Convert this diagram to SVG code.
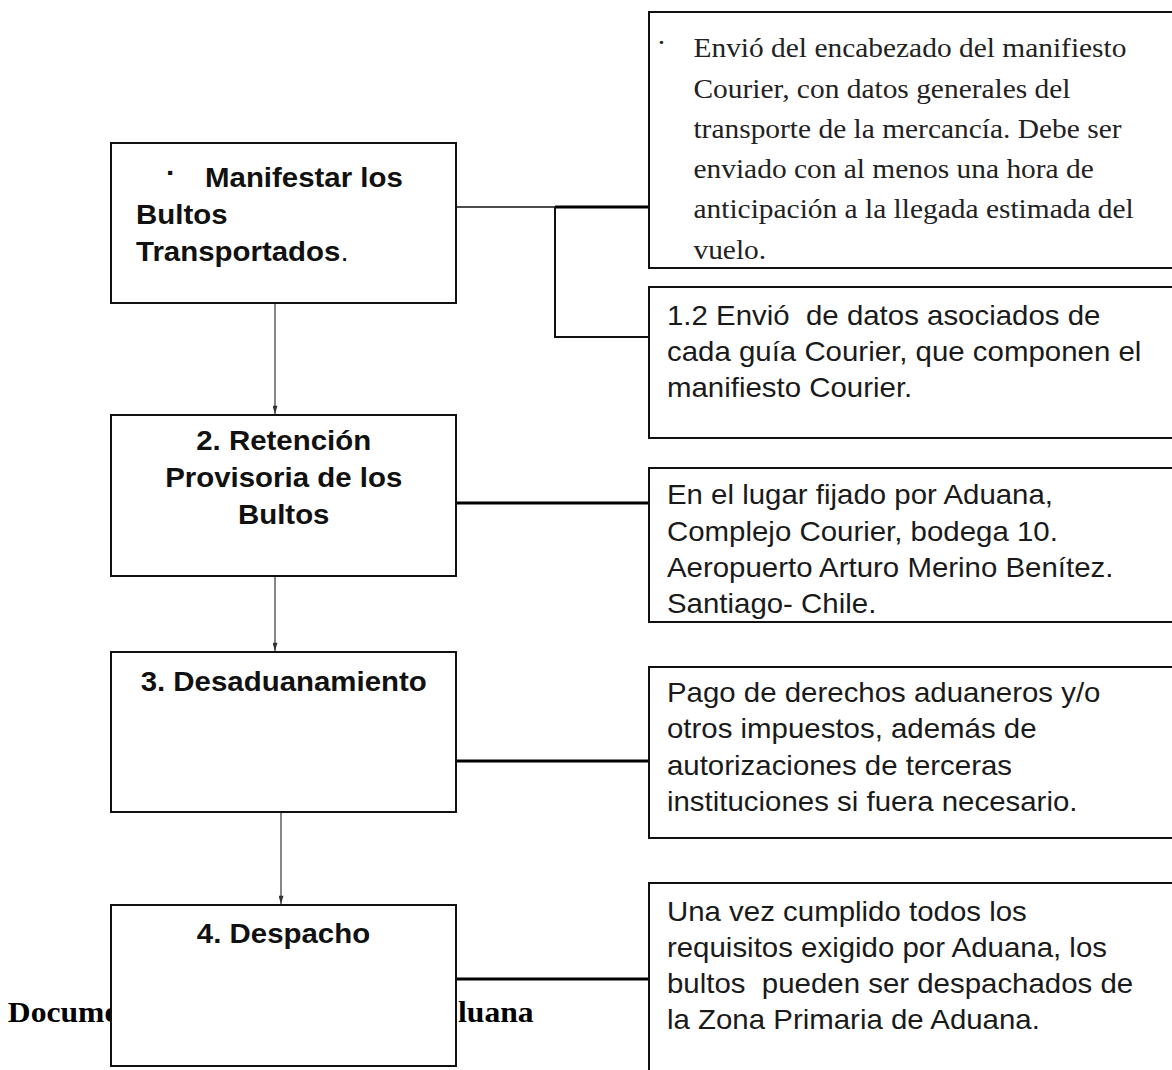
<svg xmlns="http://www.w3.org/2000/svg" width="1172" height="1070" viewBox="0 0 1172 1070">
<style>
.box{fill:#fff;stroke:#111;stroke-width:2}
.sb{font-family:"Liberation Sans",Arial,sans-serif;font-size:27px;font-weight:bold;fill:#111}
.sr{font-family:"Liberation Sans",Arial,sans-serif;font-size:27px;fill:#1a1a1a}
.tr{font-family:"Liberation Serif","Times New Roman",serif;font-size:27px;fill:#222}
.tb{font-family:"Liberation Serif","Times New Roman",serif;font-size:29px;font-weight:bold;fill:#000}
.thin{stroke:#111;stroke-width:1.6;fill:none}
.mid{stroke:#111;stroke-width:2;fill:none}
.thick{stroke:#000;stroke-width:3;fill:none}
.arr{stroke:#444;stroke-width:1.3;fill:none}
</style>
<defs>
<marker id="ah" viewBox="0 0 10 6" refX="10" refY="3" markerWidth="10" markerHeight="5" markerUnits="userSpaceOnUse" orient="auto">
<path d="M0,0 L10,3 L0,6 z" fill="#333"/>
</marker>
</defs>
<rect width="1172" height="1070" fill="#fff"/>

<g id="footer-text">
<text class="tb" transform="scale(1.09 1)" x="7.2" y="1022">Docume</text>
<text class="tb" transform="scale(1.09 1)" x="420.2" y="1022">luana</text>
</g>

<g id="connectors">
<line class="arr" x1="275" y1="304" x2="275" y2="414" marker-end="url(#ah)"/>
<line class="arr" x1="275" y1="577" x2="275" y2="651" marker-end="url(#ah)"/>
<line class="arr" x1="281" y1="813" x2="281" y2="904" marker-end="url(#ah)"/>
<line class="thin" x1="456" y1="207" x2="555" y2="207"/>
<line class="thick" x1="555" y1="207" x2="649" y2="207"/>
<polyline class="mid" points="555,207 555,337 649,337"/>
<line class="thick" x1="456" y1="503" x2="649" y2="503"/>
<line class="thick" x1="456" y1="761" x2="649" y2="761"/>
<line class="thick" x1="456" y1="979" x2="649" y2="979"/>
</g>

<g id="node-manifestar">
<rect class="box" x="111" y="143" width="345" height="160"/>
<text class="sb" transform="scale(1.09 1)" x="152.3" y="182">·</text>
<text class="sb" transform="scale(1.09 1)" x="188.1" y="187">Manifestar los</text>
<text class="sb" transform="scale(1.09 1)" x="124.8" y="224">Bultos</text>
<text class="sb" transform="scale(1.09 1)" x="124.8" y="261">Transportados<tspan font-weight="normal">.</tspan></text>
</g>

<g id="node-retencion">
<rect class="box" x="111" y="415" width="345" height="161"/>
<text class="sb" transform="scale(1.09 1)" x="260.3" y="450" text-anchor="middle">2. Retención</text>
<text class="sb" transform="scale(1.09 1)" x="260.3" y="487" text-anchor="middle">Provisoria de los</text>
<text class="sb" transform="scale(1.09 1)" x="260.3" y="524" text-anchor="middle">Bultos</text>
</g>

<g id="node-desaduanamiento">
<rect class="box" x="111" y="652" width="345" height="160"/>
<text class="sb" transform="scale(1.09 1)" x="260.3" y="691" text-anchor="middle">3. Desaduanamiento</text>
</g>

<g id="node-despacho">
<rect class="box" x="111" y="905" width="345" height="161"/>
<text class="sb" transform="scale(1.09 1)" x="260.1" y="943" text-anchor="middle">4. Despacho</text>
</g>

<g id="note-encabezado">
<rect class="box" x="649" y="12" width="531" height="256"/>
<text class="tr" transform="scale(1.09 1)" x="602.3" y="52" font-size="34">·</text>
<text class="tr" transform="scale(1.09 1)" x="636.2" y="57">Envió del encabezado del manifiesto</text>
<text class="tr" transform="scale(1.09 1)" x="636.2" y="98">Courier, con datos generales del</text>
<text class="tr" transform="scale(1.09 1)" x="636.2" y="138">transporte de la mercancía. Debe ser</text>
<text class="tr" transform="scale(1.09 1)" x="636.2" y="178">enviado con al menos una hora de</text>
<text class="tr" transform="scale(1.09 1)" x="636.2" y="218">anticipación a la llegada estimada del</text>
<text class="tr" transform="scale(1.09 1)" x="636.2" y="259">vuelo.</text>
</g>

<g id="note-guias">
<rect class="box" x="649" y="287" width="531" height="151"/>
<text class="sr" transform="scale(1.09 1)" x="611.9" y="325" xml:space="preserve">1.2 Envió  de datos asociados de</text>
<text class="sr" transform="scale(1.09 1)" x="611.9" y="361">cada guía Courier, que componen el</text>
<text class="sr" transform="scale(1.09 1)" x="611.9" y="397">manifiesto Courier.</text>
</g>

<g id="note-lugar">
<rect class="box" x="649" y="468" width="531" height="154"/>
<text class="sr" transform="scale(1.09 1)" x="611.9" y="504">En el lugar fijado por Aduana,</text>
<text class="sr" transform="scale(1.09 1)" x="611.9" y="541">Complejo Courier, bodega 10.</text>
<text class="sr" transform="scale(1.09 1)" x="611.9" y="577">Aeropuerto Arturo Merino Benítez.</text>
<text class="sr" transform="scale(1.09 1)" x="611.9" y="613">Santiago- Chile.</text>
</g>

<g id="note-pago">
<rect class="box" x="649" y="667" width="531" height="171"/>
<text class="sr" transform="scale(1.09 1)" x="611.9" y="702">Pago de derechos aduaneros y/o</text>
<text class="sr" transform="scale(1.09 1)" x="611.9" y="738">otros impuestos, además de</text>
<text class="sr" transform="scale(1.09 1)" x="611.9" y="775">autorizaciones de terceras</text>
<text class="sr" transform="scale(1.09 1)" x="611.9" y="811">instituciones si fuera necesario.</text>
</g>

<g id="note-despacho">
<rect class="box" x="649" y="883" width="531" height="200"/>
<text class="sr" transform="scale(1.09 1)" x="611.9" y="921">Una vez cumplido todos los</text>
<text class="sr" transform="scale(1.09 1)" x="611.9" y="957">requisitos exigido por Aduana, los</text>
<text class="sr" transform="scale(1.09 1)" x="611.9" y="993" xml:space="preserve">bultos  pueden ser despachados de</text>
<text class="sr" transform="scale(1.09 1)" x="611.9" y="1029">la Zona Primaria de Aduana.</text>
</g>
</svg>
